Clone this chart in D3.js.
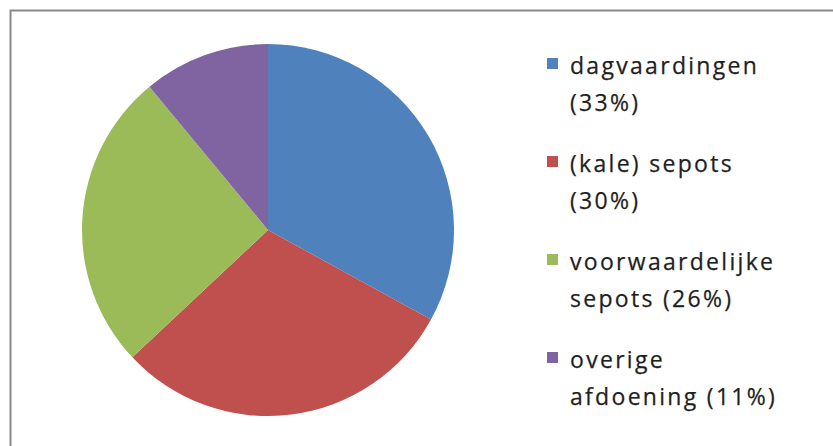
<!DOCTYPE html>
<html>
<head>
<meta charset="utf-8">
<script src="https://cdn.jsdelivr.net/npm/d3@7"></script>
<style>
  body { margin: 0; background: #fff }
  svg text { font-family: "Open Sans", sans-serif; fill: #1f1f1f }
</style>
</head>
<body>
<svg id="chart" width="833" height="446"></svg>
<script>
var categories = ['dagvaardingen', '(kale) sepots', 'voorwaardelijke sepots', 'overige afdoening']
  , values = [33, 30, 26, 11]
  , legendLines = [['dagvaardingen', '(33%)'], ['(kale) sepots', '(30%)'], ['voorwaardelijke', 'sepots (26%)'], ['overige', 'afdoening (11%)']]
  , colors = ['#4f81bd', '#c0504d', '#9bbb59', '#8064a2']

var svg = d3.select('svg#chart')
  , cx = 268, cy = 230, radius = 186

// chart area border, only top and left are visible in the crop
svg.append('rect')
  .attr('x', 10.5).attr('y', 10.5)
  .attr('width', 900).attr('height', 600)
  .attr('fill', 'none')
  .attr('stroke', '#898989')
  .attr('stroke-width', 2)

var data = categories.map(function(c, i) { return { name: c, value: values[i], color: colors[i] } })

var pie = d3.pie().sort(null).value(function(d) { return d.value })
  , arc = d3.arc().innerRadius(0).outerRadius(radius)

svg.append('g').attr('transform', 'translate(' + cx + ',' + cy + ')')
  .selectAll('path').data(pie(data))
  .enter().append('path')
  .attr('d', arc)
  .attr('fill', function(d) { return d.data.color })

var legendY = d3.scaleLinear().domain([0, 1]).range([74, 172])

var items = svg.append('g').selectAll('g.item').data(data)
  .enter().append('g').classed('item', true)
  .attr('transform', function(d, i) { return 'translate(0,' + legendY(i) + ')' })

items.append('rect')
  .attr('x', 547).attr('y', -16)
  .attr('width', 11).attr('height', 11)
  .attr('fill', function(d) { return d.color })

items.each(function(d, i) {
  var g = d3.select(this)
  legendLines[i].forEach(function(line, j) {
    g.append('text')
      .attr('x', 570)
      .attr('y', j * 37)
      .attr('font-size', 23)
      .attr('letter-spacing', 2.3)
      .attr('stroke', '#1f1f1f')
      .attr('stroke-width', 0.25)
      .text(line)
  })
})
</script>
</body>
</html>
